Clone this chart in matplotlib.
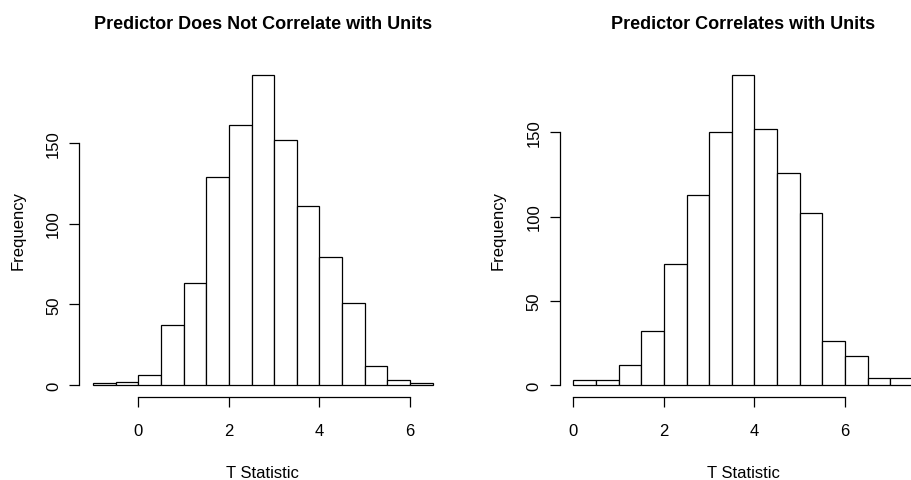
import numpy as np
import matplotlib
matplotlib.use("Agg")
import matplotlib.pyplot as plt

# bin edges and counts (bin width 0.5)
left_edges = [-1.0, -0.5, 0.0, 0.5, 1.0, 1.5, 2.0, 2.5, 3.0, 3.5, 4.0, 4.5, 5.0, 5.5, 6.0, 6.5]
left_counts = [1, 2, 6, 37, 63, 129, 161, 192, 152, 111, 79, 51, 12, 3, 1]

right_edges = [0.0, 0.5, 1.0, 1.5, 2.0, 2.5, 3.0, 3.5, 4.0, 4.5, 5.0, 5.5, 6.0, 6.5, 7.0, 7.5]
right_counts = [3, 3, 12, 32, 72, 113, 150, 184, 152, 126, 102, 26, 17, 4, 4]

titles = ["Predictor Does Not Correlate with Units", "Predictor Correlates with Units"]
x_ticks = [0, 2, 4, 6]
y_ticks = [0, 50, 100, 150]

plt.rcParams['font.family'] = ['Liberation Sans', 'DejaVu Sans']

fig = plt.figure(figsize=(9.12, 4.81), dpi=100)

W, H = 912.0, 481.0
panels = [
    (left_edges, left_counts, titles[0], 79.4),
    (right_edges, right_counts, titles[1], 559.7),
]

for edges, counts, title, x0 in panels:
    ax = fig.add_axes([x0 / W, (H - 398.4) / H, 366.9 / W, 334.8 / H])
    edges = np.array(edges)
    ax.bar(edges[:-1], counts, width=np.diff(edges), align='edge',
           facecolor='white', edgecolor='black', linewidth=0.9)
    lo, hi = edges[0], edges[-1]
    pad = 0.04 * (hi - lo)
    ax.set_xlim(lo - pad, hi + pad)
    ymax = max(counts)
    ax.set_ylim(-0.04 * ymax, ymax * 1.04)
    ax.set_xticks(x_ticks)
    ax.set_yticks(y_ticks)
    ax.set_yticklabels([str(t) for t in y_ticks], rotation=90, va='center')
    for s in ['top', 'right']:
        ax.spines[s].set_visible(False)
    ax.spines['left'].set_bounds(y_ticks[0], y_ticks[-1])
    ax.spines['bottom'].set_bounds(x_ticks[0], x_ticks[-1])
    ax.spines['left'].set_linewidth(0.9)
    ax.spines['bottom'].set_linewidth(0.9)
    ax.tick_params(axis='both', direction='out', length=7.2, width=0.9, labelsize=12)
    ax.tick_params(axis='x', pad=11)
    ax.tick_params(axis='y', pad=6)
    ax.set_xlabel('T Statistic', fontsize=12, labelpad=19.5)
    ax.set_ylabel('Frequency', fontsize=12, labelpad=15)
    ax.set_title(title, fontsize=13, fontweight='bold', pad=25)
    ax.patch.set_visible(False)

fig.savefig('out.png', dpi=100)
